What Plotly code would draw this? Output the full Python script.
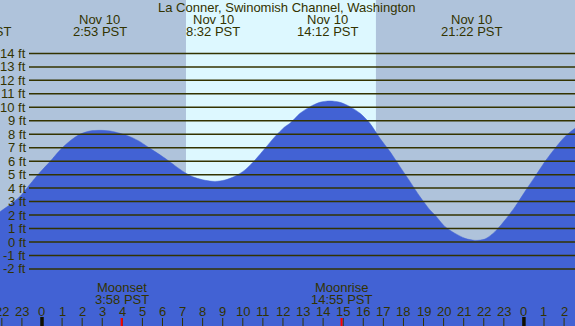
import plotly.graph_objects as go

# ---------------- data ----------------
title_text = "La Conner, Swinomish Channel, Washington"

# tide curve (hours from Nov 10 00:00, feet)
tide_hours = [-2.09, -1.59, -1.10, -0.60, -0.10, 0.40, 0.90, 1.39, 1.89, 2.39,
              2.89, 3.39, 3.88, 4.38, 4.88, 5.13, 5.63, 6.13, 6.62, 7.12,
              7.62, 8.12, 8.62, 9.11, 9.61, 10.11, 10.61, 11.11, 11.60, 12.10,
              12.35, 12.85, 13.35, 13.84, 14.34, 14.84, 15.34, 15.84, 16.33, 16.83,
              17.33, 17.83, 18.33, 18.82, 19.32, 19.57, 20.07, 20.57, 21.07, 21.56,
              22.06, 22.56, 23.06, 23.56, 24.05, 24.55, 25.05, 25.55, 26.04, 26.54]
tide_feet = [2.25, 2.78, 3.37, 4.28, 5.17, 5.97, 6.83, 7.50, 8.00, 8.24,
             8.29, 8.24, 8.07, 7.82, 7.45, 7.20, 6.71, 6.21, 5.67, 5.15,
             4.78, 4.58, 4.50, 4.60, 4.88, 5.35, 6.09, 6.96, 7.82, 8.56,
             8.81, 9.55, 10.05, 10.37, 10.47, 10.37, 10.05, 9.55, 8.81, 7.70,
             6.71, 5.59, 4.48, 3.37, 2.38, 2.00, 1.14, 0.64, 0.27, 0.12,
             0.22, 0.77, 1.63, 2.62, 3.74, 4.85, 5.97, 6.96, 7.82, 8.44]

event_hours = [-3.05, 2.883, 8.533, 14.2, 21.367]
event_dates = ["Nov 9", "Nov 10", "Nov 10", "Nov 10", "Nov 10"]
event_times = ["20:57 PST", "2:53 PST", "8:32 PST", "14:12 PST", "21:22 PST"]

sunrise_hour = 7.17
sunset_hour = 16.63

moon_names = ["Moonset", "Moonrise"]
moon_hours = [3.967, 14.917]
moon_times = ["3:58 PST", "14:55 PST"]

hour_ticks = list(range(-2, 27))
hour_labels = [str(h % 24) for h in hour_ticks]
midnight_hours = [0, 24]

feet_levels = list(range(-2, 15))
feet_labels = [f"{f} ft" for f in feet_levels]

# ---------------- style ----------------
W, H = 575, 326
X_RANGE = [-2.0916, 26.544]
Y_RANGE = [-6.236, 17.966]
NIGHT = "#afc3db"
DAY = "#ddf8ff"
WATER = "#4262d4"
INK = "#333300"
FONT = "Liberation Sans, Arial, sans-serif"
FS = 13


def xp(h):
    return (h - X_RANGE[0]) / (X_RANGE[1] - X_RANGE[0])


def yp(py):
    return 1 - py / H


fig = go.Figure()

# baseline for fill
fig.add_trace(go.Scatter(x=[X_RANGE[0] - 1, X_RANGE[1] + 1], y=[-10, -10],
                         mode="lines", line=dict(width=0, color=WATER),
                         hoverinfo="skip", showlegend=False))
fig.add_trace(go.Scatter(x=tide_hours, y=tide_feet, mode="lines",
                         line=dict(color=WATER, width=0.5, shape="spline", smoothing=0.8),
                         fill="tonexty", fillcolor=WATER,
                         hoverinfo="skip", showlegend=False))

shapes = []
# day band
shapes.append(dict(type="rect", xref="x", yref="paper", x0=sunrise_hour, x1=sunset_hour,
                   y0=0, y1=1, fillcolor=DAY, line=dict(width=0), layer="below"))
# grid lines
for f in feet_levels:
    shapes.append(dict(type="line", xref="paper", yref="y", x0=29 / W, x1=1, y0=f, y1=f,
                       line=dict(color=INK, width=1.5), layer="above"))
# hour ticks
for h in hour_ticks:
    if h in midnight_hours:
        shapes.append(dict(type="line", xref="x", yref="paper", x0=h, x1=h,
                           y0=yp(326), y1=yp(317), line=dict(color="#111100", width=3.5),
                           layer="above"))
    else:
        shapes.append(dict(type="line", xref="x", yref="paper", x0=h, x1=h,
                           y0=yp(326), y1=yp(318), line=dict(color=INK, width=1),
                           layer="above"))
for h in moon_hours:
    shapes.append(dict(type="line", xref="x", yref="paper", x0=h, x1=h,
                       y0=yp(326), y1=yp(318), line=dict(color="#ff0000", width=2),
                       layer="above"))

ann = []
ann.append(dict(text=title_text, xref="paper", yref="paper", x=286.5 / W, y=yp(7.5),
                xanchor="center", yanchor="middle", showarrow=False,
                font=dict(family=FONT, size=FS, color=INK)))
for h, d, t in zip(event_hours, event_dates, event_times):
    ann.append(dict(text=d, xref="paper", yref="paper", x=xp(h), y=yp(19.5),
                    xanchor="center", yanchor="middle", showarrow=False,
                    font=dict(family=FONT, size=FS, color=INK)))
    ann.append(dict(text=t, xref="paper", yref="paper", x=xp(h), y=yp(31.5),
                    xanchor="center", yanchor="middle", showarrow=False,
                    font=dict(family=FONT, size=FS, color=INK)))
for f, lab in zip(feet_levels, feet_labels):
    ann.append(dict(text=lab, xref="paper", yref="y", x=27.5 / W, y=f,
                    xanchor="right", yanchor="middle", showarrow=False,
                    font=dict(family=FONT, size=FS, color=INK)))
for n, h, t in zip(moon_names, moon_hours, moon_times):
    ann.append(dict(text=n, xref="paper", yref="paper", x=xp(h), y=yp(287.5),
                    xanchor="center", yanchor="middle", showarrow=False,
                    font=dict(family=FONT, size=FS, color=INK)))
    ann.append(dict(text=t, xref="paper", yref="paper", x=xp(h), y=yp(299.5),
                    xanchor="center", yanchor="middle", showarrow=False,
                    font=dict(family=FONT, size=FS, color=INK)))
for h, lab in zip(hour_ticks, hour_labels):
    ann.append(dict(text=lab, xref="paper", yref="paper", x=xp(h), y=yp(311.5),
                    xanchor="center", yanchor="middle", showarrow=False,
                    font=dict(family=FONT, size=FS, color=INK)))

fig.update_layout(
    width=W, height=H, autosize=False,
    margin=dict(l=0, r=0, t=0, b=0, pad=0),
    paper_bgcolor=NIGHT, plot_bgcolor=NIGHT,
    xaxis=dict(range=X_RANGE, visible=False, fixedrange=True),
    yaxis=dict(range=Y_RANGE, visible=False, fixedrange=True),
    shapes=shapes, annotations=ann, showlegend=False,
)

fig.write_html("out.html", config={"displayModeBar": False, "staticPlot": True},
               post_script="document.body.style.margin='0';")
